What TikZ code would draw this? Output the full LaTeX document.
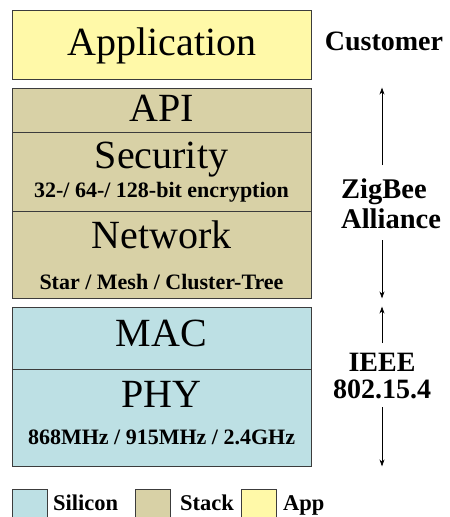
\documentclass[tikz,border=0pt]{standalone}
\usepackage{fontspec}
\setmainfont{Liberation Serif}
\usetikzlibrary{arrows.meta}
\definecolor{appcol}{RGB}{255,249,168}
\definecolor{stackcol}{RGB}{216,209,166}
\definecolor{siliconcol}{RGB}{189,224,228}
\definecolor{edgecol}{RGB}{60,60,60}
\tikzset{
  layer/.style={draw=edgecol, line width=0.8pt, inner sep=0pt, minimum width=299pt},
  keybox/.style={draw=edgecol, line width=0.8pt, inner sep=0pt, minimum size=35pt, anchor=north west},
  big/.style={font=\fontsize{40}{40}\selectfont, anchor=base, inner sep=0pt},
  small/.style={font=\fontsize{22}{22}\selectfont\bfseries, anchor=base, inner sep=0pt},
  side/.style={font=\fontsize{28}{27}\selectfont\bfseries, anchor=base, inner sep=0pt},
  keytext/.style={font=\fontsize{22.5}{22.5}\selectfont\bfseries, anchor=base west, inner sep=0pt},
  arr/.style={-{Stealth[length=7pt,width=5pt]}, line width=0.7pt},
}

\begin{document}
\begin{tikzpicture}[x=1pt,y=-1pt]
      \clip (0,0) rectangle (450,517);
      \node[layer, fill=appcol, minimum height=69pt] (app) at (161.5,44.5) {};
      \node[layer, fill=stackcol, minimum height=44pt] (api) at (161.5,110) {};
      \node[layer, fill=stackcol, minimum height=79pt] (sec) at (161.5,171.5) {};
      \node[layer, fill=stackcol, minimum height=87pt] (net) at (161.5,254.5) {};
      \node[layer, fill=siliconcol, minimum height=62pt] (mac) at (161.5,338) {};
      \node[layer, fill=siliconcol, minimum height=97pt] (phy) at (161.5,417.5) {};

      \node[big] (apptext) at (162,55) {Application};
      \node[big] (apitext) at (161.5,121) {API};
      \node[big] (sectext) at (161.5,168) {Security};
      \node[small] (secsub) at (161.5,197) {32-/ 64-/ 128-bit encryption};
      \node[big] (nettext) at (161.5,248) {Network};
      \node[small] (netsub) at (161.5,289) {Star / Mesh / Cluster-Tree};
      \node[big] (mactext) at (161.5,346) {MAC};
      \node[big] (phytext) at (161.5,407) {PHY};
      \node[small] (physub) at (161.5,444) {868MHz / 915MHz / 2.4GHz};

      \node[side] (cust) at (384,50) {Customer};
      \node[side, font=\fontsize{28.5}{30}\selectfont\bfseries, align=left, anchor=base west] (zig) at (341,228) {ZigBee\\Alliance};
      \node[side, align=center] (ieee) at (382,398) {IEEE\\802.15.4};

      \coordinate (ax) at (382,0);
      \draw[arr] (ax |- 0,165) -- (ax |- api.north);
      \draw[arr] (ax |- 0,240) -- (ax |- net.south);
      \draw[arr] (ax |- 0,343) -- (ax |- mac.north);
      \draw[arr] (ax |- 0,407) -- (ax |- phy.south);

      \node[keybox, fill=siliconcol] (keysil) at (12,489) {};
      \node[keytext] (keysiltext) at (53,510) {Silicon};
      \node[keybox, fill=stackcol] (keystack) at (135,489) {};
      \node[keytext] (keystacktext) at (180,510) {Stack};
      \node[keybox, fill=appcol] (keyapp) at (241,489) {};
      \node[keytext] (keyapptext) at (283,510) {App};
\end{tikzpicture}
\end{document}
